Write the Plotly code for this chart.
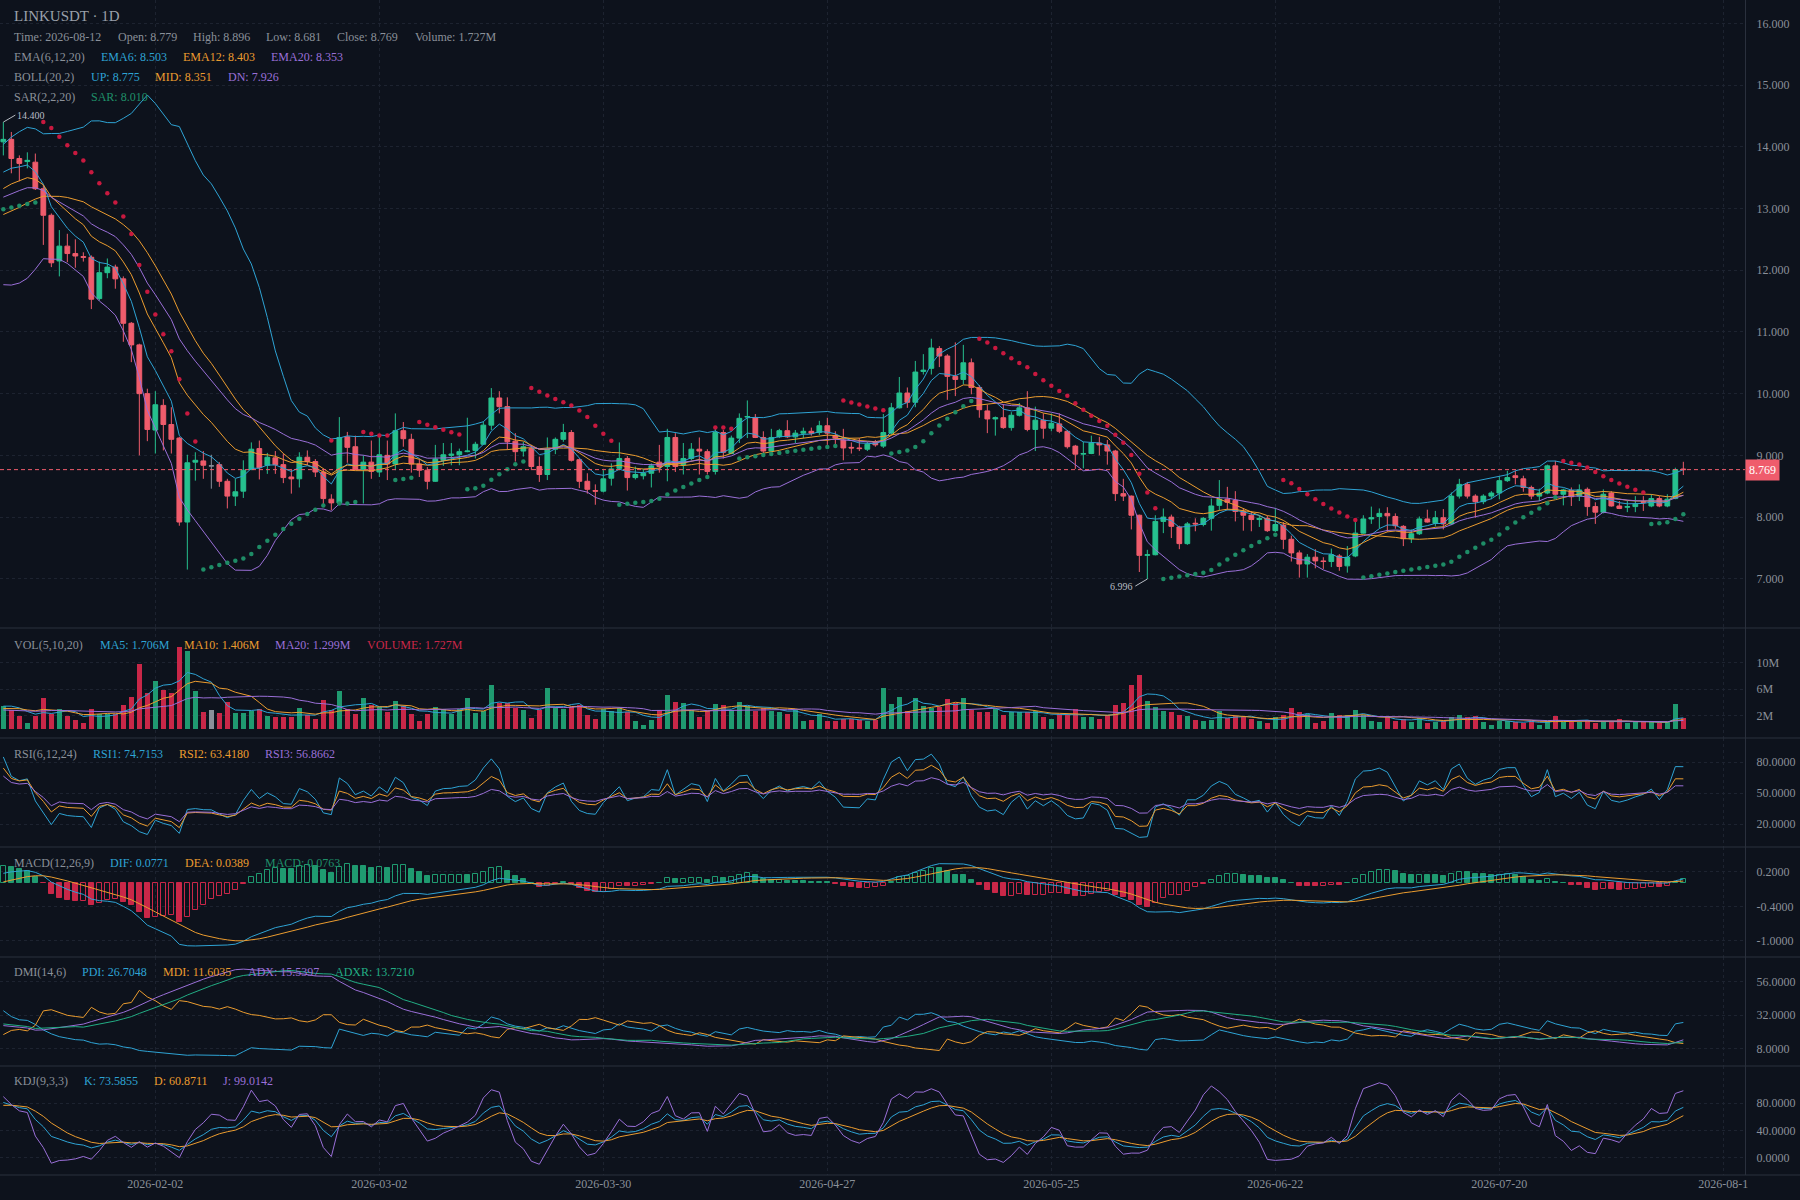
import numpy as np
import pandas as pd
import plotly.graph_objects as go
from plotly.subplots import make_subplots

FONT = "Liberation Serif"
BG = "#0d121c"
GRID = "#1d2330"
SEP = "#2a303d"
TXT = "#8a9099"
CYAN = "#2ea3d4"
ORANGE = "#eb9c2f"
PURPLE = "#9a6fd8"
GREEN_T = "#1f8f69"
ADXR_C = "#22ad84"
UP = "#26c08e"
DOWN = "#ef5c6c"
VUP = "#1f9a70"
VDOWN = "#c92748"
NEUTRAL = "#8a8f99"

first_date = "2026-01-14"

# ---- pre-window context (only used to warm up the indicators, not drawn) ----
warm_open = [13.22, 13.30, 13.45, 13.38, 13.52, 13.60, 13.48, 13.35, 13.22, 13.10,
             12.96, 12.85, 12.70, 12.52, 12.30, 12.10, 11.98, 12.15, 12.40, 12.62,
             12.85, 13.00, 13.15, 13.30, 13.38, 13.12, 12.98, 13.02, 13.05, 13.22]
warm_high = [13.41, 13.58, 13.55, 13.66, 13.74, 13.67, 13.55, 13.41, 13.30, 13.18,
             13.05, 12.93, 12.80, 12.60, 12.38, 12.20, 12.24, 12.48, 12.70, 12.93,
             13.05, 13.20, 13.36, 13.45, 13.42, 13.20, 13.10, 13.12, 13.28, 14.20]
warm_low = [13.10, 13.21, 13.24, 13.30, 13.41, 13.39, 13.25, 13.12, 12.98, 12.85,
            12.74, 12.61, 12.43, 12.22, 12.01, 11.88, 11.92, 12.10, 12.33, 12.55,
            12.80, 12.95, 13.08, 13.22, 13.05, 12.45, 12.96, 12.97, 13.00, 13.18]
warm_close = [13.30, 13.45, 13.38, 13.52, 13.60, 13.48, 13.35, 13.22, 13.10, 12.96,
              12.85, 12.70, 12.52, 12.30, 12.10, 11.98, 12.15, 12.40, 12.62, 12.85,
              13.00, 13.15, 13.30, 13.38, 13.12, 12.98, 13.02, 13.05, 13.22, 14.08]
warm_volume_m = [2.4, 2.1, 2.6, 2.2, 1.9, 2.3, 2.5, 2.8, 3.1, 2.7, 2.9, 3.2, 2.6, 2.8, 3.0,
                 2.4, 2.2, 2.5, 2.7, 2.3, 2.6, 2.9, 2.4, 2.8, 3.1, 2.6, 2.9, 3.3, 3.6, 3.9]

# ---- visible candles (2026-01-14 .. 2026-08-12) ----
open_ = [14.08, 14.12, 13.81, 13.76, 13.75, 13.32, 12.89, 12.15, 12.39, 12.27,
         12.22, 12.21, 11.54, 11.96, 12.05, 11.86, 11.14, 10.79, 10.00, 9.41,
         9.81, 9.50, 9.28, 7.92, 8.89, 8.91, 8.83, 8.85, 8.58, 8.34,
         8.42, 8.77, 9.11, 8.84, 8.96, 8.85, 8.65, 8.62, 8.97, 8.90,
         8.73, 8.29, 8.23, 9.30, 9.14, 8.77, 8.89, 8.73, 9.00, 8.86,
         9.40, 9.26, 8.86, 8.76, 8.58, 8.92, 9.00, 9.01, 9.06, 9.08,
         9.18, 9.49, 9.93, 9.79, 9.23, 9.07, 9.11, 8.82, 8.69, 9.10,
         9.26, 9.37, 8.93, 8.58, 8.43, 8.42, 8.63, 8.79, 8.95, 8.64,
         8.67, 8.71, 8.89, 8.82, 9.29, 8.85, 8.95, 9.10, 9.06, 8.74,
         9.37, 9.03, 9.28, 9.62, 9.61, 9.29, 9.07, 9.30, 9.40, 9.30,
         9.36, 9.39, 9.37, 9.48, 9.32, 9.25, 9.13, 9.12, 9.10, 9.21,
         9.15, 9.36, 9.77, 10.01, 9.86, 10.36, 10.41, 10.73, 10.61, 10.28,
         10.23, 10.50, 10.10, 9.72, 9.59, 9.61, 9.45, 9.65, 9.77, 9.42,
         9.57, 9.44, 9.51, 9.39, 9.15, 9.02, 9.03, 9.20, 9.17, 9.07,
         8.38, 8.34, 8.03, 7.38, 7.39, 7.93, 8.00, 7.84, 7.57, 7.90,
         7.88, 7.98, 8.19, 8.29, 8.27, 8.09, 8.03, 7.96, 7.98, 7.78,
         7.87, 7.64, 7.42, 7.24, 7.35, 7.29, 7.28, 7.37, 7.21, 7.37,
         7.74, 7.97, 8.01, 8.06, 8.01, 7.85, 7.65, 7.73, 7.97, 7.90,
         7.99, 7.89, 8.34, 8.53, 8.34, 8.25, 8.34, 8.39, 8.59, 8.67,
         8.62, 8.48, 8.34, 8.39, 8.83, 8.37, 8.43, 8.34, 8.45, 8.17,
         8.08, 8.39, 8.18, 8.16, 8.17, 8.25, 8.18, 8.30, 8.18, 8.30, 8.779]
high = [14.40, 14.24, 13.86, 13.91, 13.89, 13.38, 12.92, 12.65, 12.59, 12.50,
        12.29, 12.24, 12.14, 12.19, 12.09, 11.90, 11.16, 10.81, 10.08, 10.04,
        9.91, 9.78, 9.30, 9.01, 9.05, 9.07, 9.01, 8.89, 8.62, 8.62,
        8.92, 9.21, 9.24, 9.04, 9.07, 9.03, 8.78, 9.05, 9.08, 8.94,
        8.78, 8.37, 9.62, 9.38, 9.32, 9.00, 9.24, 9.32, 9.24, 9.68,
        9.54, 9.35, 8.94, 8.81, 9.17, 9.20, 9.20, 9.11, 9.61, 9.22,
        9.55, 10.09, 10.04, 9.94, 9.36, 9.22, 9.17, 8.98, 9.29, 9.29,
        9.51, 9.41, 8.95, 8.71, 8.53, 8.76, 8.87, 9.21, 8.99, 8.82,
        8.78, 8.87, 9.17, 9.43, 9.36, 9.20, 9.20, 9.29, 9.10, 9.45,
        9.41, 9.32, 9.68, 9.89, 9.67, 9.39, 9.43, 9.43, 9.57, 9.41,
        9.45, 9.45, 9.56, 9.61, 9.39, 9.43, 9.21, 9.28, 9.22, 9.25,
        9.67, 9.85, 10.27, 10.10, 10.53, 10.64, 10.89, 10.77, 10.64, 10.83,
        10.79, 10.57, 10.14, 9.82, 9.63, 9.83, 9.70, 9.85, 10.04, 9.79,
        9.68, 9.68, 9.68, 9.41, 9.17, 9.22, 9.32, 9.30, 9.25, 9.09,
        8.62, 8.35, 8.04, 7.47, 8.03, 8.14, 8.04, 7.86, 7.92, 7.98,
        8.00, 8.30, 8.60, 8.49, 8.42, 8.14, 8.09, 8.03, 8.02, 8.15,
        7.92, 7.70, 7.46, 7.40, 7.48, 7.35, 7.49, 7.40, 7.53, 7.92,
        8.03, 8.17, 8.14, 8.16, 8.06, 7.87, 7.80, 8.01, 8.12, 8.10,
        8.13, 8.40, 8.62, 8.57, 8.37, 8.37, 8.42, 8.66, 8.75, 8.75,
        8.67, 8.51, 8.46, 8.85, 8.91, 8.46, 8.48, 8.53, 8.48, 8.24,
        8.45, 8.42, 8.26, 8.26, 8.34, 8.34, 8.37, 8.34, 8.37, 8.80, 8.896]
low = [13.86, 13.57, 13.44, 13.65, 13.30, 12.41, 12.05, 11.90, 12.13, 12.04,
       12.14, 11.37, 11.51, 11.87, 11.70, 10.84, 10.51, 9.00, 9.23, 9.03,
       9.08, 9.03, 7.86, 7.15, 8.59, 8.62, 8.46, 8.49, 8.14, 8.18,
       8.31, 8.76, 8.61, 8.70, 8.70, 8.55, 8.38, 8.48, 8.84, 8.65,
       8.19, 8.11, 8.22, 8.88, 8.76, 8.22, 8.62, 8.65, 8.60, 8.76,
       9.14, 8.72, 8.65, 8.45, 8.57, 8.83, 8.84, 8.84, 9.05, 8.95,
       9.17, 9.41, 9.68, 9.09, 8.90, 8.98, 8.76, 8.57, 8.60, 9.02,
       9.22, 8.90, 8.47, 8.38, 8.20, 8.40, 8.51, 8.76, 8.43, 8.61,
       8.61, 8.48, 8.72, 8.58, 8.73, 8.69, 8.92, 8.69, 8.69, 8.69,
       8.95, 9.02, 9.20, 9.28, 9.28, 9.03, 9.05, 9.28, 9.28, 9.20,
       9.28, 9.32, 9.33, 9.17, 9.17, 8.92, 9.03, 9.07, 9.07, 9.14,
       9.12, 9.34, 9.76, 9.77, 9.78, 10.31, 10.31, 10.43, 9.90, 9.96,
       10.15, 9.99, 9.61, 9.36, 9.32, 9.43, 9.40, 9.63, 9.39, 9.07,
       9.27, 9.39, 9.36, 9.11, 8.78, 8.79, 9.02, 9.00, 8.85, 8.26,
       8.26, 7.80, 7.11, 6.996, 7.38, 7.74, 7.66, 7.48, 7.55, 7.77,
       7.85, 7.78, 8.11, 8.11, 7.93, 7.78, 7.77, 7.84, 7.76, 7.76,
       7.48, 7.28, 7.02, 7.02, 7.17, 7.16, 7.19, 7.13, 7.10, 7.35,
       7.73, 7.89, 7.82, 7.76, 7.81, 7.53, 7.58, 7.71, 7.91, 7.85,
       7.80, 7.87, 8.30, 8.30, 7.99, 8.21, 8.29, 8.29, 8.57, 8.53,
       8.41, 8.29, 8.26, 8.37, 8.35, 8.19, 8.18, 8.26, 8.02, 7.89,
       8.06, 8.17, 8.13, 8.08, 8.08, 8.10, 8.16, 8.16, 8.16, 8.29, 8.681]
close = [14.12, 13.81, 13.73, 13.78, 13.32, 12.89, 12.12, 12.39, 12.27, 12.23,
         12.21, 11.53, 11.96, 12.05, 11.86, 11.14, 10.79, 10.00, 9.42, 9.82,
         9.50, 9.26, 7.92, 8.88, 8.92, 8.84, 8.83, 8.58, 8.34, 8.41,
         8.76, 9.10, 8.80, 8.97, 8.85, 8.64, 8.62, 8.97, 8.90, 8.73,
         8.30, 8.23, 9.29, 9.13, 8.77, 8.89, 8.74, 9.01, 8.86, 9.40,
         9.27, 8.86, 8.76, 8.58, 8.94, 9.01, 9.02, 9.06, 9.07, 9.18,
         9.49, 9.93, 9.79, 9.22, 9.06, 9.14, 8.82, 8.69, 9.10, 9.26,
         9.37, 8.92, 8.58, 8.45, 8.42, 8.62, 8.78, 8.95, 8.64, 8.69,
         8.71, 8.83, 8.82, 9.29, 8.82, 8.95, 9.10, 9.07, 8.74, 9.37,
         9.05, 9.28, 9.60, 9.63, 9.29, 9.07, 9.29, 9.40, 9.30, 9.36,
         9.39, 9.36, 9.48, 9.36, 9.28, 9.12, 9.12, 9.11, 9.18, 9.17,
         9.37, 9.77, 10.01, 9.86, 10.35, 10.38, 10.74, 10.61, 10.28, 10.23,
         10.50, 10.10, 9.74, 9.59, 9.61, 9.45, 9.65, 9.77, 9.42, 9.57,
         9.44, 9.52, 9.39, 9.14, 9.02, 9.03, 9.20, 9.17, 9.07, 8.38,
         8.34, 8.03, 7.38, 7.39, 7.93, 8.00, 7.85, 7.57, 7.89, 7.89,
         7.98, 8.18, 8.29, 8.24, 8.09, 8.03, 7.96, 7.98, 7.78, 7.88,
         7.64, 7.42, 7.24, 7.35, 7.29, 7.28, 7.39, 7.20, 7.35, 7.74,
         7.97, 7.99, 8.06, 8.02, 7.86, 7.65, 7.73, 7.97, 7.92, 7.99,
         7.89, 8.34, 8.53, 8.34, 8.25, 8.34, 8.39, 8.59, 8.64, 8.64,
         8.48, 8.34, 8.39, 8.83, 8.37, 8.44, 8.33, 8.44, 8.17, 8.08,
         8.37, 8.18, 8.14, 8.17, 8.21, 8.24, 8.30, 8.18, 8.29, 8.77, 8.769]
volume_m = [3.5, 2.9, 2.0, 0.9, 1.9, 4.65, 2.25, 3.0, 1.9, 1.35,
            0.9, 3.0, 2.25, 2.25, 2.2, 3.6, 4.8, 9.75, 5.4, 7.2,
            5.9, 5.4, 12.4, 11.7, 5.75, 2.6, 2.9, 2.4, 4.0, 2.4,
            2.4, 2.75, 3.0, 1.9, 1.85, 1.85, 1.85, 3.15, 2.1, 1.5,
            4.35, 2.9, 5.75, 3.0, 2.25, 4.65, 3.65, 3.25, 2.5, 4.25,
            3.4, 2.25, 1.25, 2.25, 3.25, 3.0, 2.25, 3.0, 4.65, 2.4,
            2.75, 6.6, 3.9, 3.9, 3.15, 2.9, 1.65, 2.9, 6.15, 3.15,
            3.0, 3.25, 3.65, 2.1, 1.5, 3.0, 2.65, 3.15, 2.6, 1.25,
            0.65, 1.35, 2.9, 5.15, 4.0, 3.9, 2.9, 1.75, 2.9, 3.75,
            3.6, 2.9, 4.1, 3.5, 2.75, 3.1, 2.75, 2.6, 2.25, 2.9,
            1.25, 1.4, 2.25, 1.25, 1.25, 1.5, 1.5, 1.4, 1.25, 1.35,
            6.15, 3.75, 4.75, 2.75, 4.65, 3.5, 3.1, 3.25, 4.5, 3.9,
            4.65, 2.9, 2.6, 2.6, 3.0, 2.1, 2.5, 2.5, 2.6, 2.75,
            1.85, 1.5, 2.25, 2.1, 3.0, 1.85, 1.85, 1.5, 2.1, 3.6,
            3.9, 6.6, 8.1, 4.2, 3.3, 2.75, 2.6, 2.1, 2.0, 1.35,
            1.2, 1.4, 2.75, 1.6, 2.0, 1.75, 1.5, 1.2, 0.9, 1.75,
            2.1, 3.1, 2.5, 2.25, 0.9, 1.2, 2.4, 2.1, 2.1, 2.85,
            2.1, 1.2, 1.0, 2.0, 1.25, 1.5, 1.1, 1.6, 0.9, 1.0,
            1.25, 1.75, 2.1, 1.75, 1.9, 1.1, 0.6, 1.25, 1.25, 1.1,
            0.9, 1.2, 0.6, 1.2, 2.0, 1.1, 1.1, 1.1, 1.4, 0.9,
            1.1, 1.0, 1.5, 0.9, 1.1, 1.0, 1.0, 0.9, 1.0, 3.75, 1.727]

assert len(open_) == len(high) == len(low) == len(close) == len(volume_m) == 211

# ---- axis ticks ----
x_tick_dates = ["2026-02-02", "2026-03-02", "2026-03-30", "2026-04-27",
                "2026-05-25", "2026-06-22", "2026-07-20", "2026-08-17"]
x_tick_text = ["2026-02-02", "2026-03-02", "2026-03-30", "2026-04-27",
               "2026-05-25", "2026-06-22", "2026-07-20", "2026-08-1"]
x_range = ["2026-01-13 14:00", "2026-08-19 17:00"]

price_ticks = [7, 8, 9, 10, 11, 12, 13, 14, 15, 16]
price_tick_text = ["7.000", "8.000", "9.000", "10.000", "11.000", "12.000",
                   "13.000", "14.000", "15.000", "16.000"]
vol_ticks = [2e6, 6e6, 10e6]
vol_tick_text = ["2M", "6M", "10M"]
rsi_ticks = [20, 50, 80]
rsi_tick_text = ["20.0000", "50.0000", "80.0000"]
macd_ticks = [-1.0, -0.4, 0.2]
macd_tick_text = ["-1.0000", "-0.4000", "0.2000"]
dmi_ticks = [8, 32, 56]
dmi_tick_text = ["8.0000", "32.0000", "56.0000"]
kdj_ticks = [0, 40, 80]
kdj_tick_text = ["0.0000", "40.0000", "80.0000"]

panel_ranges = [[6.203, 16.378], [-1.36e6, 15.23e6], [-2.3, 103.4],
                [-1.284, 0.635], [-4.4, 73.8], [-25.1, 134.2]]
panel_px = [0, 628, 738, 847, 957, 1066, 1175]

last_price = 8.769
max_high_text = "14.400"
min_low_text = "6.996"

# ---- legend texts (as shown) ----
title_text = "LINKUSDT · 1D"
info_row = [("Time: 2026-08-12", 12), ("Open: 8.779", 116), ("High: 8.896", 191),
            ("Low: 8.681", 264), ("Close: 8.769", 335), ("Volume: 1.727M", 413)]
ema_row = [("EMA(6,12,20)", 12, TXT), ("EMA6: 8.503", 99, CYAN),
           ("EMA12: 8.403", 181, ORANGE), ("EMA20: 8.353", 269, PURPLE)]
boll_row = [("BOLL(20,2)", 12, TXT), ("UP: 8.775", 89, CYAN),
            ("MID: 8.351", 153, ORANGE), ("DN: 7.926", 226, PURPLE)]
sar_row = [("SAR(2,2,20)", 12, TXT), ("SAR: 8.010", 89, GREEN_T)]
vol_row = [("VOL(5,10,20)", 12, TXT), ("MA5: 1.706M", 98, CYAN), ("MA10: 1.406M", 182, ORANGE),
           ("MA20: 1.299M", 273, PURPLE), ("VOLUME: 1.727M", 365, VDOWN)]
rsi_row = [("RSI(6,12,24)", 12, TXT), ("RSI1: 74.7153", 91, CYAN),
           ("RSI2: 63.4180", 177, ORANGE), ("RSI3: 56.8662", 263, PURPLE)]
macd_row = [("MACD(12,26,9)", 12, TXT), ("DIF: 0.0771", 108, CYAN),
            ("DEA: 0.0389", 183, ORANGE), ("MACD: 0.0763", 263, GREEN_T)]
dmi_row = [("DMI(14,6)", 12, TXT), ("PDI: 26.7048", 80, CYAN), ("MDI: 11.6035", 161, ORANGE),
           ("ADX: 15.5397", 246, PURPLE), ("ADXR: 13.7210", 333, ADXR_C)]
kdj_row = [("KDJ(9,3,3)", 12, TXT), ("K: 73.5855", 82, CYAN),
           ("D: 60.8711", 152, ORANGE), ("J: 99.0142", 221, PURPLE)]

# ================= indicators =================
O = np.array(warm_open + open_, float)
H = np.array(warm_high + high, float)
L = np.array(warm_low + low, float)
C = np.array(warm_close + close, float)
V = np.array(warm_volume_m + volume_m, float) * 1e6
W = len(warm_close)
N = len(close)
dates = pd.date_range(first_date, periods=N, freq="D")


def ema(x, n):
    out = np.empty(len(x))
    out[0] = x[0]
    a = 2.0 / (n + 1)
    for i in range(1, len(x)):
        out[i] = a * x[i] + (1 - a) * out[i - 1]
    return out


ema6, ema12, ema20 = ema(C, 6), ema(C, 12), ema(C, 20)
sC = pd.Series(C)
mid = sC.rolling(20, min_periods=1).mean().values
sd = sC.rolling(20, min_periods=1).std(ddof=0).values
up_b, dn_b = mid + 2 * sd, mid - 2 * sd


def psar(H, L, start=0.02, step=0.02, amax=0.2):
    af, ep, inc, s = start, -100.0, False, 0.0
    out = np.zeros(len(H))
    for i in range(len(H)):
        pre = s
        hi, lo = H[i], L[i]
        j = max(1, i) - 1
        if inc:
            if ep == -100 or ep < hi:
                ep = hi
                af = min(af + step, amax)
            s = pre + af * (ep - pre)
            low_min = min(L[j], lo)
            if s > lo:
                s, af, ep, inc = ep, start, -100.0, False
            elif s > low_min:
                s = low_min
        else:
            if ep == -100 or ep > lo:
                ep = lo
                af = min(af + step, amax)
            s = pre + af * (ep - pre)
            high_max = max(H[j], hi)
            if s < hi:
                s, af, ep, inc = ep, 0.0, -100.0, True
            elif s < high_max:
                s = high_max
        out[i] = s
    return out


sar = psar(H, L)

sV = pd.Series(V)
vma5 = sV.rolling(5, min_periods=1).mean().values
vma10 = sV.rolling(10, min_periods=1).mean().values
vma20 = sV.rolling(20, min_periods=1).mean().values


def rsi(C, n):
    d = np.diff(C, prepend=C[0])
    u = pd.Series(np.maximum(d, 0)).ewm(alpha=1.0 / n, adjust=False).mean().values
    dd = pd.Series(np.maximum(-d, 0)).ewm(alpha=1.0 / n, adjust=False).mean().values
    tot = u + dd
    return np.where(tot > 0, 100 * u / np.where(tot > 0, tot, 1), 50)


rsi6, rsi12, rsi24 = rsi(C, 6), rsi(C, 12), rsi(C, 24)

dif = ema(C, 12) - ema(C, 26)
dea = ema(dif, 9)
hist = 2 * (dif - dea)

pC = np.concatenate([[C[0]], C[:-1]])
pH = np.concatenate([[H[0]], H[:-1]])
pL = np.concatenate([[L[0]], L[:-1]])
tr = np.maximum.reduce([H - L, np.abs(H - pC), np.abs(L - pC)])
hd = H - pH
ld = pL - L
pdm = np.where((hd > 0) & (hd > ld), hd, 0.0)
mdm = np.where((ld > 0) & (ld > hd), ld, 0.0)


def wilder_sum(x, n):
    out = np.empty(len(x))
    s = 0.0
    for i in range(len(x)):
        if i < n:
            s += x[i]
        else:
            s = s - s / n + x[i]
        out[i] = s
    return out


DMI_N, DMI_M = 14, 6
str_ = wilder_sum(tr, DMI_N)
pdi = 100 * wilder_sum(pdm, DMI_N) / str_
mdi = 100 * wilder_sum(mdm, DMI_N) / str_
dx = np.abs(pdi - mdi) / np.maximum(pdi + mdi, 1e-9) * 100
adx = np.empty(len(dx))
adx[0] = dx[0]
for i in range(1, len(dx)):
    adx[i] = (adx[i - 1] * (DMI_N - 1) + dx[i]) / DMI_N
adxr = (adx + pd.Series(adx).shift(DMI_M).bfill().values) / 2

llv = pd.Series(L).rolling(9, min_periods=1).min().values
hhv = pd.Series(H).rolling(9, min_periods=1).max().values
rsv = np.where(hhv > llv, (C - llv) / np.where(hhv > llv, hhv - llv, 1) * 100, 50)
K = np.empty(len(C))
D = np.empty(len(C))
k, d_ = 50.0, 50.0
for i in range(len(C)):
    k = (2 * k + rsv[i]) / 3
    d_ = (2 * d_ + k) / 3
    K[i], D[i] = k, d_
J = 3 * K - 2 * D

vis = slice(W, W + N)

# ================= figure =================
row_h = [panel_px[i + 1] - panel_px[i] for i in range(6)]
fig = make_subplots(rows=6, cols=1, shared_xaxes=True, vertical_spacing=0,
                    row_heights=row_h)

Ov, Hv, Lv, Cv, Vv = O[vis], H[vis], L[vis], C[vis], V[vis]
neq = Cv != Ov
eq = ~neq

fig.add_trace(go.Candlestick(
    x=dates[neq], open=Ov[neq], high=Hv[neq], low=Lv[neq], close=Cv[neq],
    increasing=dict(line=dict(color=UP, width=1), fillcolor=UP),
    decreasing=dict(line=dict(color=DOWN, width=1), fillcolor=DOWN),
    whiskerwidth=0, hoverinfo="skip"), row=1, col=1)
if eq.any():
    fig.add_trace(go.Candlestick(
        x=dates[eq], open=Ov[eq], high=Hv[eq], low=Lv[eq], close=Cv[eq],
        increasing=dict(line=dict(color=NEUTRAL, width=1), fillcolor=NEUTRAL),
        decreasing=dict(line=dict(color=NEUTRAL, width=1), fillcolor=NEUTRAL),
        whiskerwidth=0, hoverinfo="skip"), row=1, col=1)


def line(y, color, row):
    fig.add_trace(go.Scatter(x=dates, y=y, mode="lines",
                             line=dict(color=color, width=1), hoverinfo="skip"),
                  row=row, col=1)


line(up_b[vis], CYAN, 1)
line(mid[vis], ORANGE, 1)
line(dn_b[vis], PURPLE, 1)
line(ema6[vis], CYAN, 1)
line(ema12[vis], ORANGE, 1)
line(ema20[vis], PURPLE, 1)

sar_v = sar[vis]
sar_col = np.where(sar_v < (Hv + Lv) / 2, "#1e8c66", "#c8193f")
fig.add_trace(go.Scatter(x=dates, y=sar_v, mode="markers",
                         marker=dict(size=4.5, color=list(sar_col)), hoverinfo="skip"),
              row=1, col=1)

# volume
vcol = np.where(Cv > Ov, VUP, np.where(Cv < Ov, VDOWN, NEUTRAL))
bar_w = 0.55 * 86400000
fig.add_trace(go.Bar(x=dates, y=Vv, marker=dict(color=list(vcol), line=dict(width=0)),
                     width=bar_w, hoverinfo="skip"), row=2, col=1)
line(vma5[vis], CYAN, 2)
line(vma10[vis], ORANGE, 2)
line(vma20[vis], PURPLE, 2)

# rsi
line(rsi6[vis], CYAN, 3)
line(rsi12[vis], ORANGE, 3)
line(rsi24[vis], PURPLE, 3)

# macd
hv = hist[vis]
hprev = hist[W - 1:W + N - 1]
mcol = np.where(hv > 0, VUP, np.where(hv < 0, VDOWN, NEUTRAL))
mfill = np.where(hprev < hv, "rgba(0,0,0,0)", mcol)
fig.add_trace(go.Bar(x=dates, y=hv, width=bar_w,
                     marker=dict(color=list(mfill), line=dict(color=list(mcol), width=1)),
                     hoverinfo="skip"), row=4, col=1)
line(dif[vis], CYAN, 4)
line(dea[vis], ORANGE, 4)

# dmi
line(pdi[vis], CYAN, 5)
line(mdi[vis], ORANGE, 5)
line(adx[vis], PURPLE, 5)
line(adxr[vis], ADXR_C, 5)

# kdj
line(K[vis], CYAN, 6)
line(D[vis], ORANGE, 6)
line(J[vis], PURPLE, 6)

# axes
ticks = [(price_ticks, price_tick_text), (vol_ticks, vol_tick_text), (rsi_ticks, rsi_tick_text),
         (macd_ticks, macd_tick_text), (dmi_ticks, dmi_tick_text), (kdj_ticks, kdj_tick_text)]
for r in range(6):
    fig.update_yaxes(row=r + 1, col=1, range=panel_ranges[r], tickvals=ticks[r][0],
                     ticktext=ticks[r][1], side="right", showgrid=True, gridcolor=GRID,
                     griddash="3px,3px", gridwidth=1, zeroline=False, showline=True,
                     linecolor=SEP, linewidth=1, ticks="", ticklabelstandoff=8,
                     tickfont=dict(family=FONT, size=12, color=TXT), fixedrange=True)
fig.update_xaxes(range=x_range, tickvals=x_tick_dates, ticktext=x_tick_text, showgrid=True,
                 gridcolor=GRID, griddash="3px,3px", gridwidth=1, zeroline=False,
                 showline=False, ticks="", rangeslider_visible=False,
                 tickfont=dict(family=FONT, size=12, color=TXT), fixedrange=True)
for r in range(1, 6):
    fig.update_xaxes(row=r, col=1, showticklabels=False)
fig.update_xaxes(row=6, col=1, showticklabels=True)

PW, PH = 1745.0, 1175.0
for p in panel_px[1:]:
    fig.add_shape(type="line", xref="paper", yref="paper", x0=0, x1=1800 / PW,
                  y0=1 - p / PH, y1=1 - p / PH, line=dict(color=SEP, width=1))

fig.add_shape(type="line", xref="paper", yref="y", x0=0, x1=1, y0=last_price, y1=last_price,
              line=dict(color=DOWN, width=1, dash="4px,3px"))
fig.add_annotation(xref="paper", yref="y", x=1, y=last_price, xanchor="left", yanchor="middle",
                   text=f"{last_price:.3f}", showarrow=False, bgcolor=DOWN, borderpad=3,
                   font=dict(family=FONT, size=12, color="#ffffff"))

hi_i = int(np.argmax(Hv))
lo_i = int(np.argmin(Lv))
fig.add_annotation(x=dates[hi_i], y=Hv[hi_i], xref="x", yref="y", text=max_high_text,
                   showarrow=True, arrowhead=0, arrowwidth=1, arrowcolor="#b8bcc4",
                   ax=12, ay=-7, xanchor="left", yanchor="middle",
                   font=dict(family=FONT, size=10, color="#b8bcc4"))
fig.add_annotation(x=dates[lo_i], y=Lv[lo_i], xref="x", yref="y", text=min_low_text,
                   showarrow=True, arrowhead=0, arrowwidth=1, arrowcolor="#b8bcc4",
                   ax=-12, ay=7, xanchor="right", yanchor="middle",
                   font=dict(family=FONT, size=10, color="#b8bcc4"))


def label(text, xpx, ypx, color, size=12):
    fig.add_annotation(text=text, x=xpx / PW, y=1 - ypx / PH, xref="paper", yref="paper",
                       xanchor="left", yanchor="middle", showarrow=False,
                       font=dict(family=FONT, size=size, color=color))


label(title_text, 12, 16, "#9aa0aa", 15)
for t, xp in info_row:
    label(t, xp, 37, TXT)
for rowdef, yp in [(ema_row, 57), (boll_row, 77), (sar_row, 97), (vol_row, 645),
                   (rsi_row, 754), (macd_row, 863), (dmi_row, 972), (kdj_row, 1081)]:
    for t, xp, col in rowdef:
        label(t, xp, yp, col)

fig.update_layout(width=1800, height=1200, margin=dict(l=0, r=55, t=0, b=25),
                  paper_bgcolor=BG, plot_bgcolor=BG, showlegend=False, hovermode=False,
                  boxgap=0.3, boxgroupgap=0.15, bargap=0,
                  font=dict(family=FONT, size=12, color=TXT))

fig.write_html("out.html", config={"displayModeBar": False},
               post_script="document.body.style.margin='0';")
